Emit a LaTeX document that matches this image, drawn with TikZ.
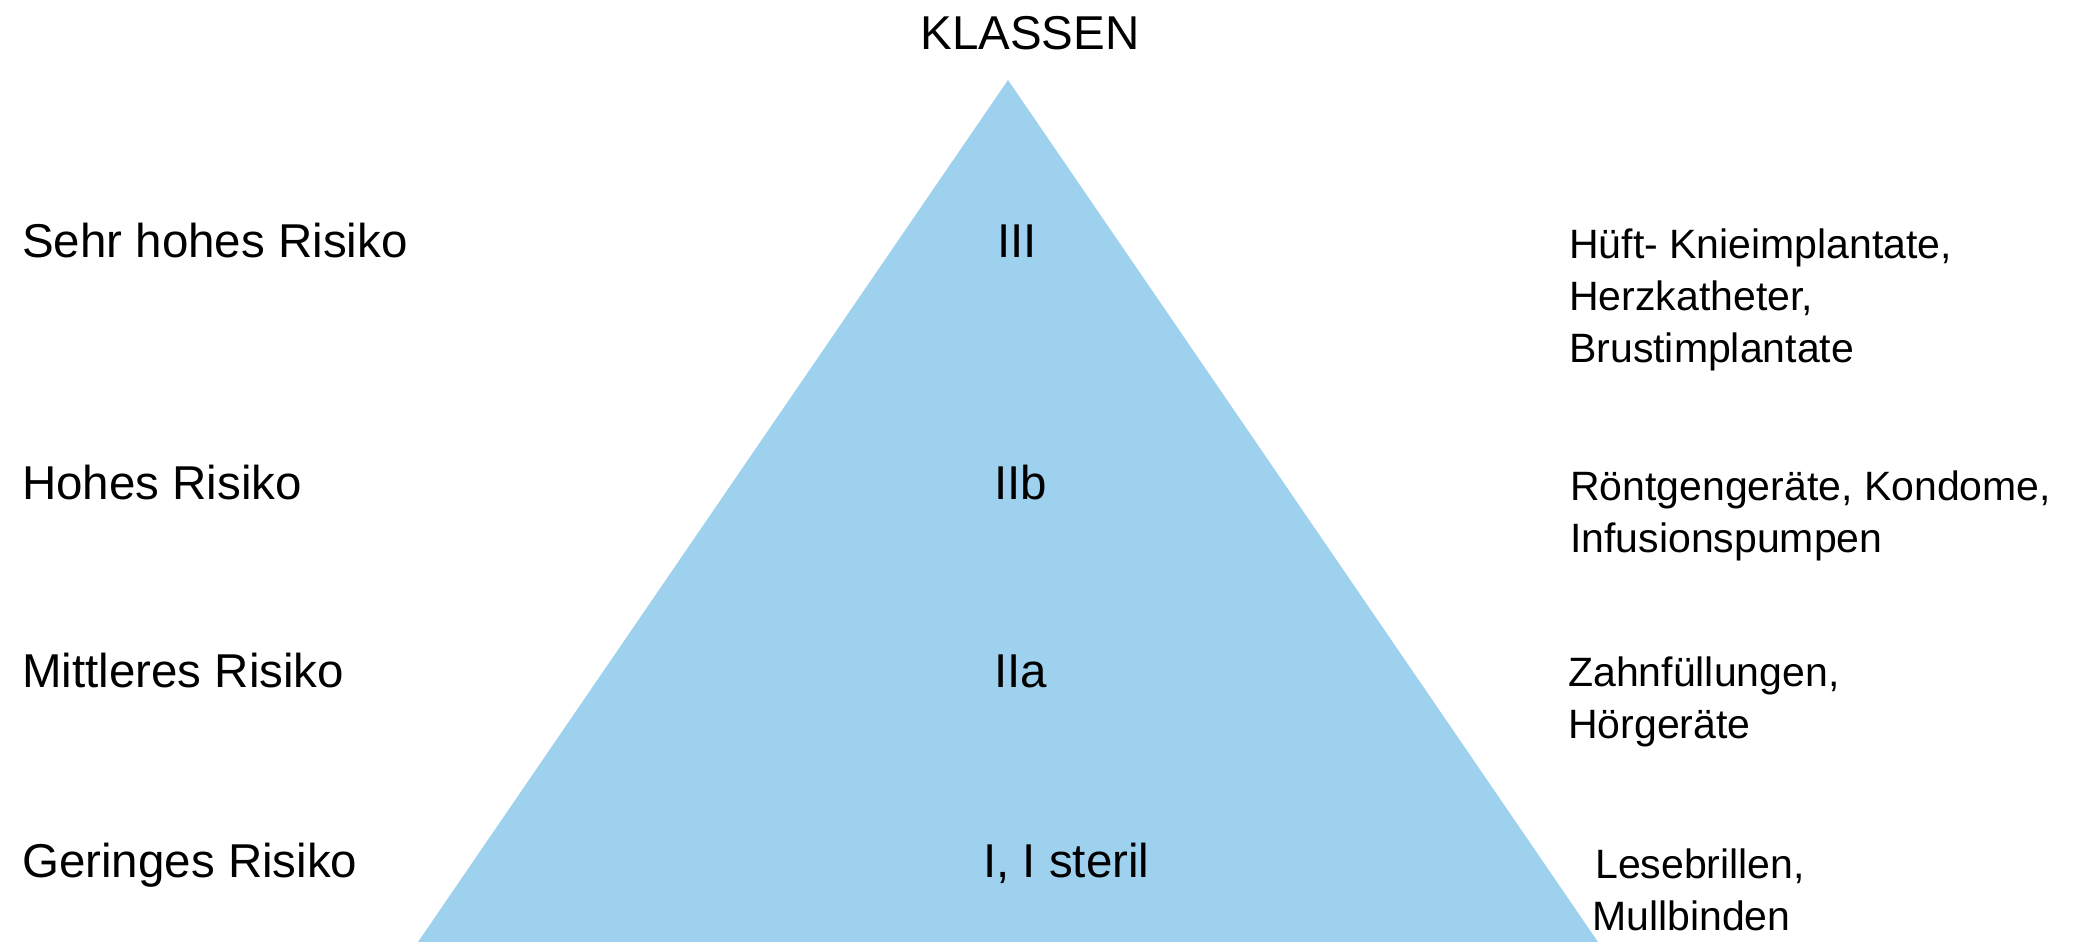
\documentclass[tikz,border=0pt]{standalone}
\usepackage{fontspec}
\setmainfont{Liberation Sans}
\definecolor{pyramid}{RGB}{158,209,237}
\begin{document}
\begin{tikzpicture}[x=1pt,y=-1pt,
  lbl/.style={anchor=base west,inner sep=0pt,font=\fontsize{47.5}{52}\selectfont},
  cls/.style={anchor=base west,inner sep=0pt,font=\fontsize{47.5}{52}\selectfont},
  ex/.style={anchor=base west,inner sep=0pt,font=\fontsize{41}{52}\selectfont,align=left}]
\useasboundingbox (0,0) rectangle (2078,942);
% risk pyramid
\fill[pyramid] (1008,80) -- (418,942) -- (1598,942) -- cycle;
\node[anchor=base,inner sep=0pt,font=\fontsize{47.5}{52}\selectfont] (title) at (1030,50) {KLASSEN};
% risk levels
\node[lbl] (r3) at (22,257) {Sehr hohes Risiko};
\node[lbl] (r2b) at (22,499) {Hohes Risiko};
\node[lbl] (r2a) at (22,687) {Mittleres Risiko};
\node[lbl] (r1) at (22,877) {Geringes Risiko};
% classes
\node[cls] (c3) at (997,257) {III};
\node[cls] (c2b) at (994,499) {IIb};
\node[cls] (c2a) at (994,687) {IIa};
\node[cls] (c1) at (983,877) {I, I steril};
% examples (anchored at the baseline of the last line)
\node[ex] (e3) at (1569,362) {Hüft- Knieimplantate,\\Herzkatheter,\\Brustimplantate};
\node[ex] (e2b) at (1570,552) {Röntgengeräte, Kondome,\\Infusionspumpen};
\node[ex] (e2a) at (1568,738) {Zahnfüllungen,\\Hörgeräte};
\node[ex] (e1) at (1592,930) {\hspace*{3pt}Lesebrillen,\\Mullbinden};
\end{tikzpicture}
\end{document}
